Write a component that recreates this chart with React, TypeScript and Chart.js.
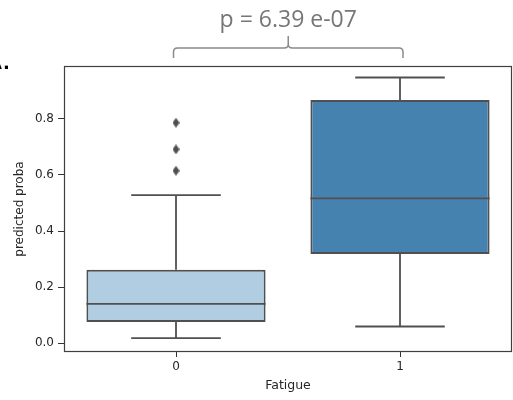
import { useEffect, useRef } from 'react';
import { Chart, registerables } from 'chart.js';

Chart.register(...registerables);

const categories = ['0', '1'];
const q1 = [0.0755, 0.3185];
const medians = [0.1406, 0.5167];
const q3 = [0.262, 0.8665];
const whiskerLow = [0.0185, 0.0598];
const whiskerHigh = [0.528, 0.947];
const outliers0 = [0.786, 0.691, 0.615];
const yTicks = [0, 0.2, 0.4, 0.6, 0.8];
const yMin = -0.031;
const yMax = 0.988;
const boxColors = ['#b1cde2', '#4682b0'];
const pValueText = 'p = 6.39 e-07';
const xTitle = 'Fatigue';
const yTitle = 'predicted proba';

const LINE = '#505050';
const TEXT = '#262626';

function makeDiamond() {
  const c = document.createElement('canvas');
  c.width = 7;
  c.height = 10;
  const g = c.getContext('2d')!;
  g.fillStyle = LINE;
  g.beginPath();
  g.moveTo(3.5, 0);
  g.lineTo(7, 5);
  g.lineTo(3.5, 10);
  g.lineTo(0, 5);
  g.closePath();
  g.fill();
  return c;
}

const boxPlugin = {
  id: 'boxExtras',
  afterDatasetsDraw(chart: any) {
    const { ctx, scales } = chart;
    const x = scales.x;
    const y = scales.y;
    const meta = chart.getDatasetMeta(0);
    ctx.save();
    ctx.strokeStyle = LINE;
    ctx.lineWidth = 1.8;
    const seg = (x1: number, y1: number, x2: number, y2: number) => {
      ctx.beginPath();
      ctx.moveTo(x1, y1);
      ctx.lineTo(x2, y2);
      ctx.stroke();
    };
    categories.forEach((_, i) => {
      const bar = meta.data[i];
      const cx = x.getPixelForValue(i);
      const half = bar.width / 2;
      const cap = half / 2;
      const yHi = y.getPixelForValue(whiskerHigh[i]);
      const yLo = y.getPixelForValue(whiskerLow[i]);
      seg(cx, y.getPixelForValue(q3[i]), cx, yHi);
      seg(cx - cap, yHi, cx + cap, yHi);
      seg(cx, y.getPixelForValue(q1[i]), cx, yLo);
      seg(cx - cap, yLo, cx + cap, yLo);
      const ym = y.getPixelForValue(medians[i]);
      seg(cx - half, ym, cx + half, ym);
    });
    ctx.restore();
  },
  afterDraw(chart: any) {
    const { ctx, chartArea, scales } = chart;
    const x = scales.x;
    ctx.save();
    // frame
    ctx.strokeStyle = '#404040';
    ctx.lineWidth = 1.2;
    ctx.strokeRect(chartArea.left + 0.5, chartArea.top + 0.5, chartArea.right - chartArea.left - 1, chartArea.bottom - chartArea.top - 1);
    // brace
    const l = x.getPixelForValue(0) - 2.5;
    const r = x.getPixelForValue(1) + 3;
    const m = (l + r) / 2;
    const base = chartArea.top - 18;
    ctx.strokeStyle = '#8a8a8a';
    ctx.lineWidth = 1.5;
    ctx.beginPath();
    ctx.moveTo(l, base + 10);
    ctx.lineTo(l, base + 4);
    ctx.quadraticCurveTo(l, base, l + 4, base);
    ctx.lineTo(m - 4, base);
    ctx.quadraticCurveTo(m, base, m, base - 4);
    ctx.lineTo(m, base - 12);
    ctx.moveTo(m, base - 4);
    ctx.quadraticCurveTo(m, base, m + 4, base);
    ctx.lineTo(r - 4, base);
    ctx.quadraticCurveTo(r, base, r, base + 4);
    ctx.lineTo(r, base + 10);
    ctx.stroke();
    // p-value
    ctx.fillStyle = '#767676';
    ctx.font = '23px "Open Sans"';
    ctx.textAlign = 'center';
    ctx.textBaseline = 'alphabetic';
    ctx.fillText(pValueText, m, 27);
    // panel letter (cropped at the left edge)
    ctx.fillStyle = '#000';
    ctx.font = 'bold 18px "DejaVu Sans"';
    ctx.textAlign = 'right';
    ctx.fillText('A', 2, 69);
    ctx.textAlign = 'left';
    ctx.fillText('.', 3, 69);
    ctx.restore();
  },
};

export default function App() {
  const ref = useRef<HTMLCanvasElement>(null);
  useEffect(() => {
    document.body.style.margin = '0';
    const diamond = makeDiamond();
    const chart = new Chart(ref.current!, {
      type: 'bar',
      data: {
        labels: categories,
        datasets: [
          {
            type: 'bar',
            data: categories.map((_, i) => [q1[i], q3[i]]) as any,
            backgroundColor: boxColors,
            borderColor: LINE,
            borderWidth: 2,
            borderSkipped: false,
            barPercentage: 0.8,
            categoryPercentage: 1.0,
          },
          {
            type: 'line',
            data: outliers0.map((v) => ({ x: categories[0], y: v })) as any,
            showLine: false,
            pointStyle: diamond as any,
            pointRadius: 4,
          },
        ],
      },
      options: {
        animation: false,
        responsive: false,
        devicePixelRatio: 1,
        layout: { autoPadding: false, padding: { top: 66, right: 1, left: 0, bottom: 0 } },
        plugins: { legend: { display: false }, tooltip: { enabled: false } },
        scales: {
          x: {
            type: 'category',
            offset: true,
            afterFit: (s: any) => { s.height = 48; s.paddingLeft = 0; s.paddingRight = 0; },
            grid: { display: true, drawOnChartArea: false, offset: false, tickLength: 5, color: '#333' },
            border: { display: false },
            ticks: { color: TEXT, font: { family: 'DejaVu Sans', size: 12 }, padding: 3 },
            title: { display: true, text: xTitle, color: TEXT, font: { family: 'DejaVu Sans', size: 12.5 }, padding: { top: 0, bottom: 7 } },
          },
          y: {
            type: 'linear',
            min: yMin,
            max: yMax,
            afterFit: (s: any) => { s.width = 64; s.paddingTop = 0; s.paddingBottom = 0; },
            afterBuildTicks: (s: any) => { s.ticks = yTicks.map((v) => ({ value: v })); },
            grid: { display: true, drawOnChartArea: false, tickLength: 6, color: '#333' },
            border: { display: false },
            ticks: { color: TEXT, font: { family: 'DejaVu Sans', size: 12 }, padding: 4, callback: (v: any) => Number(v).toFixed(1) },
            title: { display: true, text: yTitle, color: TEXT, font: { family: 'DejaVu Sans', size: 12 }, padding: { top: 13, bottom: 0 } },
          },
        },
      },
      plugins: [boxPlugin],
    });
    return () => chart.destroy();
  }, []);
  return <canvas ref={ref} width={513} height={400} style={{ display: 'block' }} />;
}
